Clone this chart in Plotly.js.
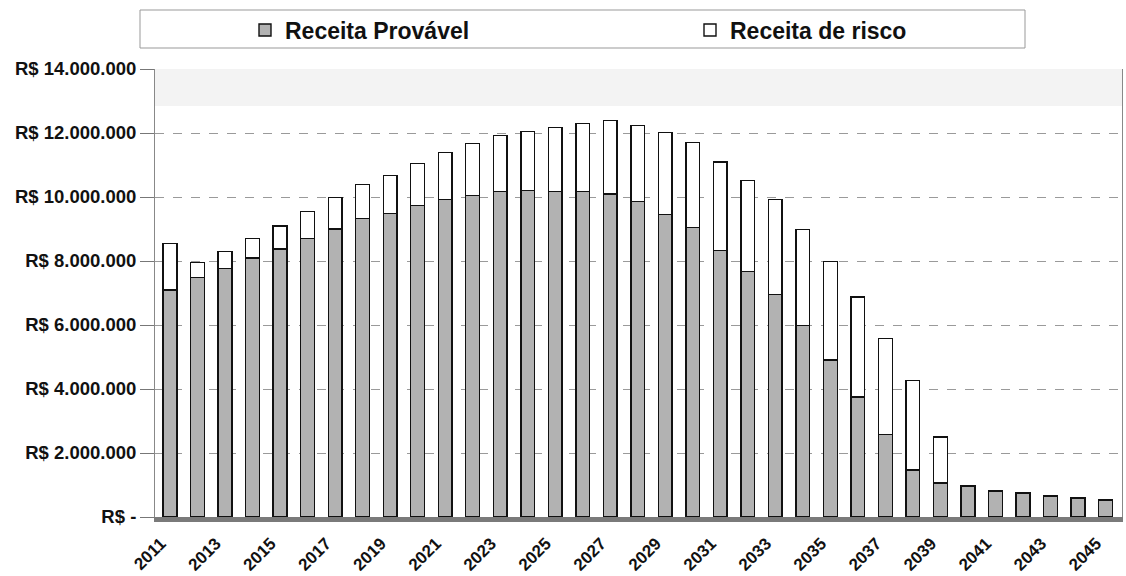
<!DOCTYPE html>
<html>
<head>
<meta charset="utf-8">
<script src="https://cdn.plot.ly/plotly-3.0.1.min.js"></script>
<style>
html,body{margin:0;padding:0;background:#fff;}
#chart{width:1126px;height:576px;}
</style>
</head>
<body>
<div id="chart"></div>
<script>
const years = [2011,2012,2013,2014,2015,2016,2017,2018,2019,2020,
  2021,2022,2023,2024,2025,2026,2027,2028,2029,2030,
  2031,2032,2033,2034,2035,2036,2037,2038,2039,2040,
  2041,2042,2043,2044,2045];

const receitaProvavel = [7100000,7480000,7760000,8100000,8380000,8700000,9000000,9320000,9480000,9730000,
  9920000,10040000,10170000,10200000,10170000,10170000,10100000,9860000,9450000,9040000,
  8330000,7670000,6950000,5980000,4910000,3750000,2570000,1470000,1060000,970000,
  810000,750000,660000,590000,530000];

const receitaRisco = [1440000,470000,540000,600000,720000,850000,980000,1070000,1190000,1310000,
  1470000,1630000,1750000,1850000,2000000,2130000,2290000,2370000,2570000,2660000,
  2770000,2840000,2970000,3000000,3070000,3130000,3000000,2790000,1440000,0,
  0,0,0,0,0];

const xTickYears = [2011,2013,2015,2017,2019,2021,2023,2025,2027,2029,2031,2033,2035,2037,2039,2041,2043,2045];
const yTickVals = [0,2000000,4000000,6000000,8000000,10000000,12000000,14000000];
const yTickText = ['R$ -','R$ 2.000.000','R$ 4.000.000','R$ 6.000.000','R$ 8.000.000','R$ 10.000.000','R$ 12.000.000','R$ 14.000.000'];
const seriesNames = ['Receita Provável','Receita de risco'];

const FONT = 'Liberation Sans, Arial, sans-serif';

const traces = [
  {
    type:'bar', name:seriesNames[0], x:years, y:receitaProvavel,
    width:0.5, legend:'legend',
    marker:{color:'#b2b2b2', line:{color:'#111', width:1.4}},
    hoverinfo:'x+y'
  },
  {
    type:'bar', name:seriesNames[1], x:years, y:receitaRisco,
    width:0.5, legend:'legend2',
    marker:{color:'#ffffff', line:{color:'#111', width:1.4}},
    hoverinfo:'x+y'
  }
];

const L = 155, R = 1122, T = 69, B = 517;
const pw = R - L, ph = B - T;
function px(x){ return (x - L)/pw; }
function py(y){ return (B - y)/ph; }

const legendFont = {family:FONT, size:23, color:'#111', weight:'bold'};

const layout = {
  width:1126, height:576,
  margin:{l:L, r:1126-R, t:T, b:576-B, pad:0, autoexpand:false},
  paper_bgcolor:'#fff',
  plot_bgcolor:'#fff',
  barmode:'stack',
  showlegend:true,
  legend:{
    orientation:'h',
    xref:'container', yref:'container',
    x:245/1126, xanchor:'left',
    y:1-30/576, yanchor:'middle',
    bgcolor:'rgba(0,0,0,0)', borderwidth:0,
    font:legendFont
  },
  legend2:{
    orientation:'h',
    xref:'container', yref:'container',
    x:690/1126, xanchor:'left',
    y:1-30/576, yanchor:'middle',
    bgcolor:'rgba(0,0,0,0)', borderwidth:0,
    font:legendFont
  },
  xaxis:{
    type:'linear',
    range:[2010.455, 2045.6],
    tickmode:'array', tickvals:xTickYears, ticktext:xTickYears.map(String),
    tickangle:-45,
    tickfont:{family:FONT, size:17, color:'#111', weight:'bold'},
    ticklabelstandoff:5, ticklabelshift:-9,
    ticks:'', showgrid:false, zeroline:false,
    showline:true, linecolor:'#7a7a7a', linewidth:5
  },
  yaxis:{
    range:[0,14000000],
    tickmode:'array', tickvals:yTickVals, ticktext:yTickText,
    tickfont:{family:FONT, size:18.5, color:'#111', weight:'bold'},
    ticks:'outside', ticklen:14, tickcolor:'#777', tickwidth:1,
    showgrid:true, gridcolor:'#9a9a9a', griddash:'dash', gridwidth:1,
    zeroline:false,
    showline:true, linecolor:'#888', linewidth:1, mirror:true
  },
  shapes:[
    {type:'rect', xref:'paper', yref:'paper', layer:'below',
     x0:0, x1:1, y0:py(106), y1:1,
     fillcolor:'#f3f3f3', line:{width:0}},
    {type:'rect', xref:'paper', yref:'paper',
     x0:px(140), x1:px(1025), y0:py(48), y1:py(10),
     fillcolor:'rgba(0,0,0,0)', line:{color:'#999', width:1}}
  ]
};

Plotly.newPlot('chart', traces, layout, {displayModeBar:false, staticPlot:true});
</script>
</body>
</html>
